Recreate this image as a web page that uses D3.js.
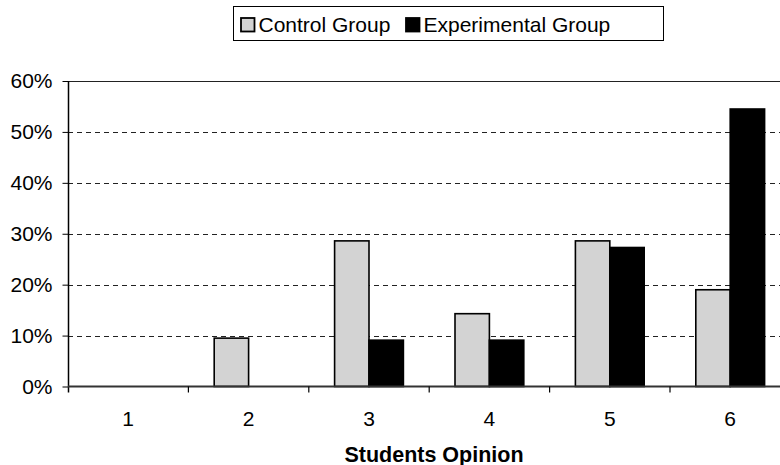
<!DOCTYPE html>
<html><head><meta charset="utf-8">
<script src="https://cdn.jsdelivr.net/npm/d3@7"></script>
<style>body{margin:0;background:#fff}svg{display:block;font-family:"Liberation Sans",Arial,sans-serif}</style>
</head><body><svg id="c" width="780" height="465"></svg>
<script>
const categories = ["1","2","3","4","5","6"];
const seriesNames = ["Control Group","Experimental Group"];
const controlValues = [0, 0.095, 0.286, 0.143, 0.286, 0.190];
const experimentalValues = [0, 0, 0.091, 0.091, 0.273, 0.545];
const yTicks = [0, 0.1, 0.2, 0.3, 0.4, 0.5, 0.6];
const colors = ["#d3d3d3", "#000000"];

(function () {
const svg = d3.select("#c");
const pLeft = 68, pRight = 790.4, pTop = 81, pBottom = 386.5;
const x = d3.scaleBand().domain(categories).range([pLeft, pRight]).padding(0);
const sub = d3.scaleBand().domain([0,1]).range([0, x.bandwidth()]).paddingInner(0).paddingOuter(0.75);
const y = d3.scaleLinear().domain([0, 0.6]).range([pBottom, pTop]);

// gridlines
svg.append("g").selectAll("line").data(yTicks.filter(t => t > 0)).join("line")
  .attr("x1", pLeft).attr("x2", 780).attr("y1", d => Math.round(y(d)) + 0.5).attr("y2", d => Math.round(y(d)) + 0.5)
  .attr("stroke", "#222").attr("stroke-width", 1)
  .attr("stroke-dasharray", d => d === 0.6 ? null : "5,4");

// bars
const data = categories.map((c, i) => ({c, vals: [controlValues[i], experimentalValues[i]]}));
const g = svg.append("g").selectAll("g").data(data).join("g")
  .attr("transform", d => `translate(${x(d.c)},0)`);
g.selectAll("rect").data(d => d.vals.map((v, j) => ({v, j})).filter(e => e.v > 0)).join("rect")
  .attr("x", e => sub(e.j)).attr("width", sub.bandwidth())
  .attr("y", e => y(e.v)).attr("height", e => y(0) - y(e.v))
  .attr("fill", e => colors[e.j]).attr("stroke", "#000").attr("stroke-width", 1.6);

// y axis
const yAxis = d3.axisLeft(y).tickValues(yTicks).tickFormat(d3.format(".0%")).tickSize(6).tickPadding(10);
const ya = svg.append("g").attr("transform", `translate(${pLeft + 0.5},0)`).call(yAxis);
ya.select(".domain").attr("d", `M0,${pTop}V${pBottom + 6}`).attr("stroke", "#000").attr("stroke-width", 1.5);
ya.selectAll(".tick line").attr("stroke", "#000");
ya.selectAll("text").attr("font-size", 21).attr("fill", "#000").attr("font-family", '"Liberation Sans",Arial,sans-serif');

// x axis
const xa = svg.append("g").attr("transform", `translate(0,${pBottom})`);
xa.append("line").attr("x1", pLeft).attr("x2", 780).attr("y1", 0).attr("y2", 0).attr("stroke", "#333").attr("stroke-width", 2);
xa.selectAll("line.t").data(categories.slice(1)).join("line").attr("class", "t")
  .attr("x1", d => x(d)).attr("x2", d => x(d)).attr("y1", 0).attr("y2", 6).attr("stroke", "#000").attr("stroke-width", 1.2);
xa.selectAll("text").data(categories).join("text")
  .attr("x", d => x(d) + x.bandwidth() / 2).attr("y", 39.5).attr("text-anchor", "middle")
  .attr("font-size", 21).text(d => d);

svg.append("text").attr("x", 434).attr("y", 461.5).attr("text-anchor", "middle")
  .attr("font-size", 21.5).attr("font-weight", "bold").text("Students Opinion");

// legend
const lg = svg.append("g");
lg.append("rect").attr("x", 233.5).attr("y", 6.5).attr("width", 430).attr("height", 34)
  .attr("fill", "#fff").attr("stroke", "#000").attr("stroke-width", 1);
const lx = [241, 406];
seriesNames.forEach((n, i) => {
  lg.append("rect").attr("x", lx[i]).attr("y", 18).attr("width", 13.5).attr("height", 13.5)
    .attr("fill", colors[i]).attr("stroke", "#000").attr("stroke-width", 1.8);
  lg.append("text").attr("x", lx[i] + 17.5).attr("y", 31.5).attr("font-size", 21).text(n);
});
})();
</script></body></html>
